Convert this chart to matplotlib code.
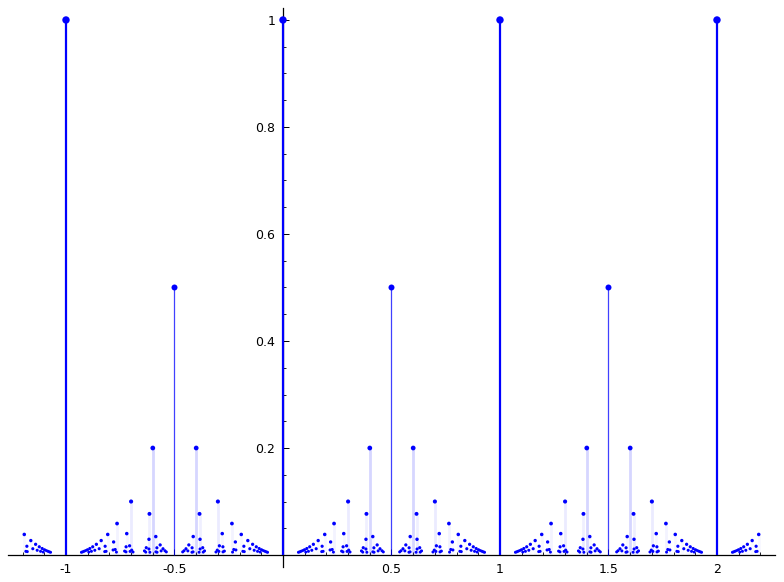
import matplotlib
matplotlib.use("Agg")
import matplotlib.pyplot as plt
from matplotlib.ticker import MultipleLocator, FixedLocator, FixedFormatter
import numpy as np

# Denominators q (height of each point is 1/q) and the numerators p in [0, q)
# of the points x = p/q inside one unit period (the pattern repeats every 1).
Q = [1, 2, 5, 10, 13, 17, 25, 26, 29, 34, 37, 41, 50, 53, 58, 61, 65, 73, 74,
     82, 85, 89, 97, 101, 106, 109, 113, 122, 125, 130, 137, 145, 146, 149,
     157, 169, 170, 173, 178, 181, 185, 193, 194, 197]
P = [[0], [1], [2, 3], [3, 7], [5, 8], [4, 13], [7, 18], [5, 21], [12, 17],
     [13, 21], [6, 31], [9, 32], [7, 43], [23, 30], [17, 41], [11, 50],
     [8, 18, 47, 57], [27, 46], [31, 43], [9, 73], [13, 38, 47, 72], [34, 55],
     [22, 75], [10, 91], [23, 83], [33, 76], [15, 98], [11, 111], [57, 68],
     [47, 57, 73, 83], [37, 100], [12, 17, 128, 133], [27, 119], [44, 105],
     [28, 129], [70, 99], [13, 47, 123, 157], [80, 93], [55, 123], [19, 162],
     [43, 68, 117, 142], [81, 112], [75, 119], [14, 183]]
PERIODS = [-2, -1, 0, 1, 2]
X_MIN, X_MAX = -1.2, 2.2

X_TICKS = [-1, -0.5, 0.5, 1, 1.5, 2]
X_TICK_LABELS = ["-1", "-0.5", "0.5", "1", "1.5", "2"]
Y_TICKS = [0.2, 0.4, 0.6, 0.8, 1.0]
Y_TICK_LABELS = ["0.2", "0.4", "0.6", "0.8", "1"]

xs, ys, qs = [], [], []
for q, plist in zip(Q, P):
    for k in PERIODS:
        for p in plist:
            x = k + p / q
            if X_MIN < x < X_MAX:
                xs.append(x)
                ys.append(1.0 / q)
                qs.append(q)
xs = np.array(xs); ys = np.array(ys); qs = np.array(qs)

fig = plt.figure(figsize=(7.84, 5.82), dpi=100)
ax = fig.add_axes([0.01, 0.02577, 0.9787, 0.9605])
ax.set_xlim(-1.268, 2.268)
ax.set_ylim(-0.0224, 1.0224)

BLUE = (0.0, 0.0, 1.0)

def line_style(q):
    if q == 1:
        return 1.6, 1.0
    if q == 2:
        return 0.9, 0.75
    return 2.0, min(0.16, 0.8 / q)

for x, y, q in zip(xs, ys, qs):
    lw, a = line_style(q)
    ax.vlines(x, 0, y, colors=[BLUE + (a,)], linewidths=lw, zorder=2)

diam_px = 2.6 + 4.8 / np.sqrt(qs)
sizes = (diam_px * 72.0 / 100.0) ** 2
ax.scatter(xs, ys, s=sizes, c=[BLUE], linewidths=0, zorder=3)

for side in ["top", "right"]:
    ax.spines[side].set_visible(False)
ax.spines["left"].set_position(("data", 0))
ax.spines["bottom"].set_position(("data", 0))
for side in ["left", "bottom"]:
    ax.spines[side].set_linewidth(0.9)
    ax.spines[side].set_zorder(1)

ax.xaxis.set_major_locator(FixedLocator(X_TICKS))
ax.xaxis.set_major_formatter(FixedFormatter(X_TICK_LABELS))
ax.xaxis.set_minor_locator(MultipleLocator(0.1))
ax.yaxis.set_major_locator(FixedLocator(Y_TICKS))
ax.yaxis.set_major_formatter(FixedFormatter(Y_TICK_LABELS))
ax.yaxis.set_minor_locator(MultipleLocator(0.05))

ax.tick_params(which="major", direction="in", length=4.3, width=0.7,
               labelsize=9, pad=5.5, colors="black")
ax.tick_params(which="minor", direction="in", length=2.2, width=0.6)
ax.patch.set_visible(False)

fig.savefig("out.png", dpi=100, facecolor="white")
